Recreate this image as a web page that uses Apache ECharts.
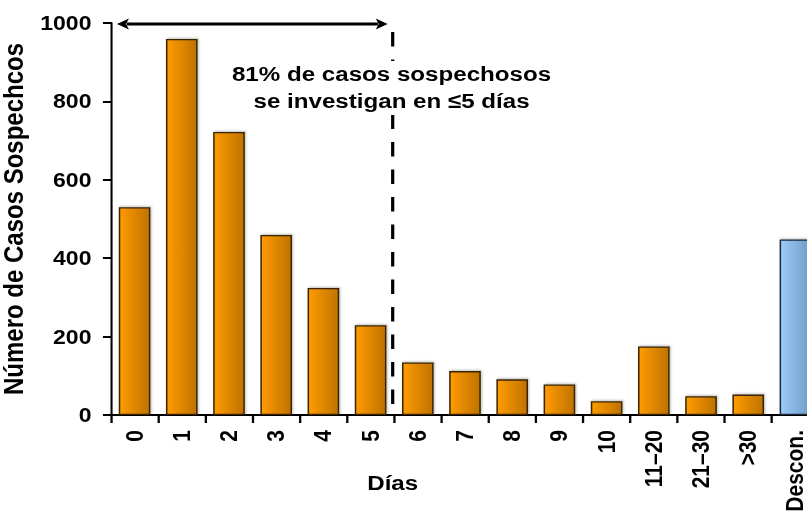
<!DOCTYPE html>
<html>
<head>
<meta charset="utf-8">
<script src="https://cdn.jsdelivr.net/npm/echarts@6/dist/echarts.min.js"></script>
<style>
  html, body { margin: 0; padding: 0; background: #fff; overflow: hidden; }
  /* el original tiene el texto algo ensanchado: se dibuja en 702px y se estira a 807px */
  #chart { width: 702px; height: 520px; transform: scaleX(1.15); transform-origin: 0 0; }
</style>
</head>
<body>
<div id="chart"></div>
<script>
// datos
var dias = ['0', '1', '2', '3', '4', '5', '6', '7', '8', '9', '10', '11\u201320', '21\u201330', '>30', 'Descon.'];
var casos = [530, 959, 722, 459, 324, 229, 134, 112, 91, 78, 35, 175, 48, 52, 448];
var yTicks = [0, 200, 400, 600, 800, 1000];
var nota = ['81% de casos sospechosos', 'se investigan en \u22645 d\u00edas'];

var FONT = '"Liberation Sans", Arial, sans-serif';
var SX = 1.15; // estiramiento horizontal

function grad(c1, c2) {
  return new echarts.graphic.LinearGradient(0, 0, 1, 0, [
    { offset: 0, color: c1 },
    { offset: 1, color: c2 }
  ]);
}

var chart = echarts.init(document.getElementById('chart'), null, { renderer: 'svg' });

var option = {
  animation: false,
  backgroundColor: '#fff',
  grid: { left: 96.5, top: 23, bottom: 105, right: -10.2, containLabel: false, outerBoundsMode: 'none' },
  xAxis: {
    type: 'category',
    data: dias,
    axisLine: { lineStyle: { color: '#000', width: 2 } },
    axisTick: { show: true, length: 8, lineStyle: { color: '#000', width: 2 } },
    axisLabel: {
      rotate: 90,
      interval: 0,
      margin: 15,
      fontFamily: FONT, fontWeight: 'bold', fontSize: 21, color: '#000'
    }
  },
  yAxis: {
    type: 'value',
    min: yTicks[0],
    max: yTicks[yTicks.length - 1],
    interval: 200,
    name: 'N\u00famero de Casos Sospechcos',
    nameLocation: 'middle',
    nameGap: 84.5,
    nameRotate: 90,
    nameMoveOverlap: false,
    nameTextStyle: { fontFamily: FONT, fontWeight: 'bold', fontSize: 24, color: '#000', verticalAlign: 'middle' },
    splitLine: { show: false },
    axisLine: { show: true, lineStyle: { color: '#000', width: 1.8 } },
    axisTick: { show: true, length: 7, lineStyle: { color: '#000', width: 2 } },
    axisLabel: {
      margin: 17,
      fontFamily: FONT, fontWeight: 'bold', fontSize: 20, color: '#000',
      formatter: function (v) { return String(v); }
    }
  },
  series: [{
    type: 'bar',
    barCategoryGap: '33%',
    data: casos.map(function (v, i) {
      var ultimo = i === casos.length - 1;
      return {
        value: v,
        itemStyle: {
          color: ultimo ? grad('#9DCBFA', '#6F9BC6') : grad('#FF9C00', '#BF7200'),
          borderColor: ultimo ? '#1a2a3a' : '#3a2400',
          borderWidth: 1.3,
          shadowColor: 'rgba(0,0,0,0.25)',
          shadowBlur: 2,
          shadowOffsetX: 1,
          shadowOffsetY: -1
        }
      };
    })
  }]
};

chart.setOption(option);

// anotaciones: linea discontinua entre 5 y 6, flecha, textos
var p5 = chart.convertToPixel({ xAxisIndex: 0 }, '5');
var p6 = chart.convertToPixel({ xAxisIndex: 0 }, '6');
var p0 = chart.convertToPixel({ xAxisIndex: 0 }, '0');
var banda = p6 - p5;
var xCorte = (p5 + p6) / 2 - 1.5 / SX;
var yTop = chart.convertToPixel({ yAxisIndex: 0 }, 1000) + 1;
var yBase = chart.convertToPixel({ yAxisIndex: 0 }, 0);
var xIni = p0 - banda / 2 + 6 / SX;
var xFin = xCorte - 5 / SX;
var cabeza = 12 / SX;

chart.setOption({
  graphic: [
    {
      type: 'line',
      shape: { x1: xCorte, y1: yTop + 8, x2: xCorte, y2: yBase - 5 },
      style: { stroke: '#000', lineWidth: 2.8, lineDash: [14.5, 13] },
      z: 10
    },
    {
      type: 'line',
      shape: { x1: xIni + cabeza - 2, y1: yTop, x2: xFin - cabeza + 2, y2: yTop },
      style: { stroke: '#000', lineWidth: 3 },
      z: 10
    },
    {
      type: 'polygon',
      shape: { points: [[xIni, yTop], [xIni + cabeza, yTop - 5.5], [xIni + cabeza * 0.75, yTop], [xIni + cabeza, yTop + 5.5]] },
      style: { fill: '#000' },
      z: 10
    },
    {
      type: 'polygon',
      shape: { points: [[xFin, yTop], [xFin - cabeza, yTop - 5.5], [xFin - cabeza * 0.75, yTop], [xFin - cabeza, yTop + 5.5]] },
      style: { fill: '#000' },
      z: 10
    },
    {
      type: 'text',
      x: xCorte - 1,
      y: 88,
      style: {
        text: nota.join('\n'),
        fontFamily: FONT, fontWeight: 'bold', fontSize: 21,
        lineHeight: 27,
        fill: '#000',
        align: 'center',
        verticalAlign: 'middle',
        backgroundColor: '#fff'
      },
      z: 11
    },
    {
      type: 'text',
      x: xCorte,
      y: 483,
      style: {
        text: 'D\u00edas',
        fontFamily: FONT, fontWeight: 'bold', fontSize: 21,
        fill: '#000',
        align: 'center',
        verticalAlign: 'middle'
      }
    }
  ]
});
</script>
</body>
</html>
